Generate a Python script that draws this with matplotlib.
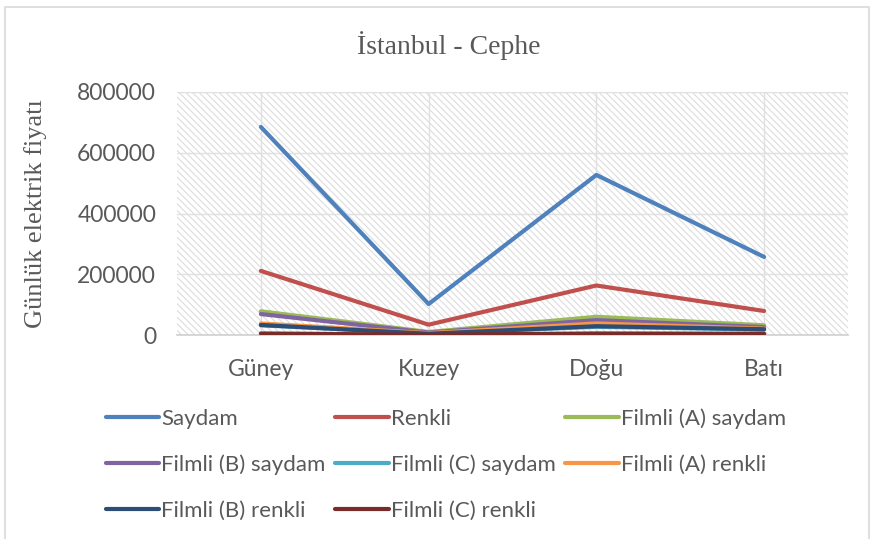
import matplotlib.pyplot as plt
from matplotlib.patches import Rectangle

# categories and series (daily electricity price)
cepheler = ['Güney', 'Kuzey', 'Doğu', 'Batı']
saydam = [685000, 102000, 527000, 257000]
renkli = [211000, 34000, 163000, 79000]
filmli_a_saydam = [78000, 10000, 60000, 32000]
filmli_b_saydam = [69000, 8000, 49000, 26000]
filmli_c_saydam = [32000, 5000, 27000, 18000]
filmli_a_renkli = [38000, 6000, 38000, 21000]
filmli_b_renkli = [33000, 4000, 29000, 19000]
filmli_c_renkli = [5000, 1000, 5000, 4000]

seriler = [
    ('Saydam', saydam, '#4F81BD'),
    ('Renkli', renkli, '#C0504D'),
    ('Filmli (A) saydam', filmli_a_saydam, '#9BBB59'),
    ('Filmli (B) saydam', filmli_b_saydam, '#8064A2'),
    ('Filmli (C) saydam', filmli_c_saydam, '#4BACC6'),
    ('Filmli (A) renkli', filmli_a_renkli, '#F79646'),
    ('Filmli (B) renkli', filmli_b_renkli, '#2C4D75'),
    ('Filmli (C) renkli', filmli_c_renkli, '#772C2A'),
]

plt.rcParams['hatch.linewidth'] = 0.8

fig = plt.figure(figsize=(8.71, 5.39), dpi=100)
ax = fig.add_axes([177/871, 1-335/539, 671/871, 243/539])

# hatched plot background
ax.add_patch(Rectangle((0, 0), 1, 1, transform=ax.transAxes, facecolor='white',
                       edgecolor='#dcdcdc', linewidth=0, hatch='\\\\\\\\\\', zorder=0))

x = list(range(len(cepheler)))
cizgiler = {}
for ad, deger, renk in seriler:
    l, = ax.plot(x, deger, color=renk, lw=3, label=ad, solid_capstyle='round', zorder=3)
    cizgiler[ad] = l

ax.set_xlim(-0.5, 3.5)
ax.set_ylim(0, 800000)
ax.set_yticks(range(0, 800001, 200000))
ax.set_xticks(x)
ax.set_xticklabels(cepheler)
ax.grid(True, color='#e0e0e0', lw=1, zorder=1)
ax.set_axisbelow(True)
for s in ['top', 'right', 'left']:
    ax.spines[s].set_visible(False)
ax.spines['bottom'].set_color('#d0d0d0')
ax.spines['bottom'].set_linewidth(1.2)
ax.tick_params(length=0, labelsize=16.5, labelcolor='#595959')
ax.tick_params(axis='y', pad=15)
ax.tick_params(axis='x', pad=17)
for t in ax.get_xticklabels() + ax.get_yticklabels():
    t.set_family('Lato')

ax.set_ylabel('Günlük elektrik fiyatı', family='Liberation Serif', fontsize=19,
              color='#595959')
ax.yaxis.set_label_coords(-130/671, 0.5)
fig.text(0.515, 1-46/539, 'İstanbul - Cephe', family='Liberation Serif', fontsize=20,
         color='#595959', ha='center', va='center')

# legend in Excel row order, matplotlib fills by column
sira = ['Saydam', 'Filmli (B) saydam', 'Filmli (B) renkli',
        'Renkli', 'Filmli (C) saydam', 'Filmli (C) renkli',
        'Filmli (A) saydam', 'Filmli (A) renkli']
leg = fig.legend([cizgiler[s] for s in sira], sira, ncol=3, loc='upper left',
                 bbox_to_anchor=(86/871, 1-388/539), frameon=False,
                 prop={'family': 'Lato', 'size': 16}, handlelength=2.4,
                 handletextpad=0.08, columnspacing=0.45, labelspacing=1.17)
for t in leg.get_texts():
    t.set_color('#595959')

# outer chart border
fig.add_artist(Rectangle((5/871, -0.01), 864/871, 1 - 7/539 + 0.01, transform=fig.transFigure,
                         fill=False, edgecolor='#d9d9d9', lw=1.2))

plt.savefig('out.png', dpi=100)
